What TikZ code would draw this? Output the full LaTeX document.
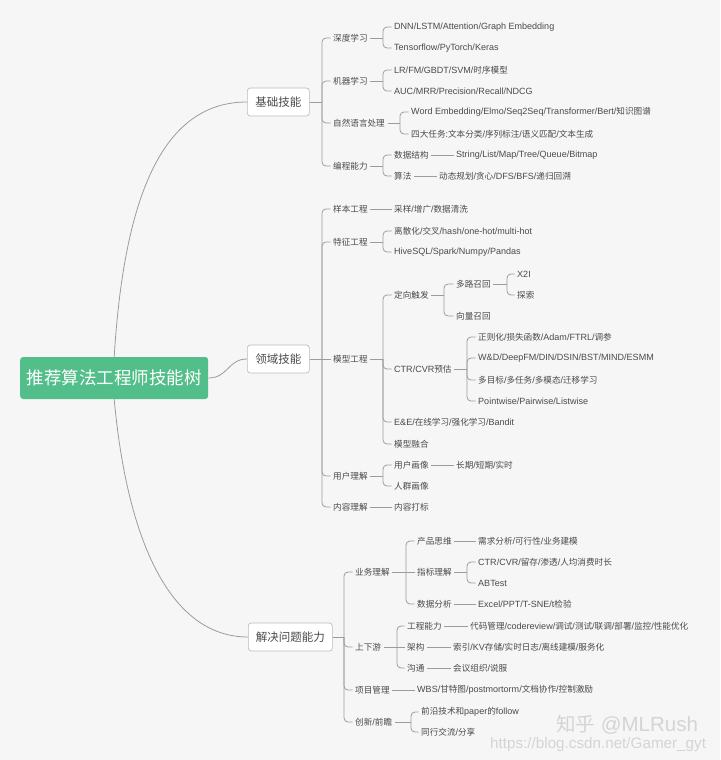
\documentclass[tikz,border=0pt]{standalone}
\usepackage{fontspec}
\setmainfont{Liberation Sans}[Scale=1.05]
\newfontfamily\latfont{Liberation Sans}[Scale=1.05]
\newfontfamily\cjkfont{Noto Sans CJK SC}
\newXeTeXintercharclass\CJKcls
\newcount\cjkcnt
\cjkcnt="4E00
\loop
  \XeTeXcharclass\cjkcnt=\CJKcls
  \advance\cjkcnt by 1
\ifnum\cjkcnt<"A000 \repeat
\XeTeXinterchartoks 0 \CJKcls={\cjkfont}
\XeTeXinterchartoks 4095 \CJKcls={\cjkfont}
\XeTeXinterchartoks \CJKcls 0={\latfont}
\XeTeXinterchartoks \CJKcls 4095={\latfont}
\XeTeXinterchartokenstate=1

\definecolor{bgc}{HTML}{F6F6F6}
\definecolor{lnc}{HTML}{9C9C9C}
\definecolor{txc}{HTML}{4A4A4A}
\definecolor{bdc}{HTML}{BDBDBD}
\definecolor{grn}{HTML}{52BE8A}
\definecolor{wmk}{HTML}{D4D4D4}

\tikzset{
  lbl/.style={anchor=west, xshift=-2.5pt, inner xsep=2.5pt, inner ysep=1pt, text=txc, font=\fontsize{8.6}{10}\selectfont},
  lvone/.style={anchor=west, draw=bdc, fill=white, rounded corners=3pt, line width=0.7pt, minimum height=28pt, inner xsep=6pt, text=txc, font=\fontsize{11.5}{13}\selectfont},
  rootbox/.style={anchor=west, fill=grn, rounded corners=3pt, minimum height=42pt, minimum width=188pt, text=white, font=\fontsize{17.5}{19}\selectfont},
  conn/.style={draw=lnc, line width=0.8pt, rounded corners=4pt},
  wm/.style={anchor=west, inner sep=0pt, text=wmk}
}

\newcommand\mybrk[3]{%
  \coordinate (bxc) at (#2,0);
  \coordinate (bj) at (#1.east -| bxc);
  \draw[conn] (#1.east) -- (bj);
  \foreach \c in {#3} {\draw[conn] (bj) |- (\c.west);}
}
\newcommand\mylnk[2]{\draw[conn] (#1.east) -- (#2.west);}

\begin{document}
\begin{tikzpicture}[x=1pt,y=-1pt]
\fill[bgc] (0,0) rectangle (720,760);
\useasboundingbox (0,0) rectangle (720,760);

% root and level one
\node[rootbox] (r) at (20,378) {推荐算法工程师技能树};
\node[lvone, minimum width=62pt] (A) at (247,102) {基础技能};
\node[lvone, minimum width=62pt] (B) at (247,359) {领域技能};
\node[lvone, minimum width=84pt] (C) at (248,637) {解决问题能力};

% 基础技能
\node[lbl] (a1) at (333,38) {深度学习};
\node[lbl] (a11) at (394,27) {DNN/LSTM/Attention/Graph Embedding};
\node[lbl] (a12) at (394,48) {Tensorflow/PyTorch/Keras};
\node[lbl] (a2) at (333,81) {机器学习};
\node[lbl] (a21) at (394,70) {LR/FM/GBDT/SVM/时序模型};
\node[lbl] (a22) at (394,91) {AUC/MRR/Precision/Recall/NDCG};
\node[lbl] (a3) at (333,123) {自然语言处理};
\node[lbl] (a31) at (411,112) {Word Embedding/Elmo/Seq2Seq/Transformer/Bert/知识图谱};
\node[lbl] (a32) at (411,134) {四大任务:文本分类/序列标注/语义匹配/文本生成};
\node[lbl] (a4) at (333,166) {编程能力};
\node[lbl] (a41) at (394,155) {数据结构};
\node[lbl] (a411) at (456,155) {String/List/Map/Tree/Queue/Bitmap};
\node[lbl] (a42) at (394,176) {算法};
\node[lbl] (a421) at (439,176) {动态规划/贪心/DFS/BFS/递归回溯};

% 领域技能
\node[lbl] (b1) at (333,209) {样本工程};
\node[lbl] (b11) at (394,209) {采样/增广/数据清洗};
\node[lbl] (b2) at (333,242) {特征工程};
\node[lbl] (b21) at (394,231) {离散化/交叉/hash/one-hot/multi-hot};
\node[lbl] (b22) at (394,252) {HiveSQL/Spark/Numpy/Pandas};
\node[lbl] (b3) at (333,359) {模型工程};
\node[lbl] (b31) at (394,295) {定向触发};
\node[lbl] (b311) at (456,284) {多路召回};
\node[lbl] (b3111) at (517,274) {X2I};
\node[lbl] (b3112) at (517,295) {探索};
\node[lbl] (b312) at (456,316) {向量召回};
\node[lbl] (b32) at (394,369) {CTR/CVR预估};
\node[lbl] (b321) at (478,337) {正则化/损失函数/Adam/FTRL/调参};
\node[lbl] (b322) at (478,358) {W\&D/DeepFM/DIN/DSIN/BST/MIND/ESMM};
\node[lbl] (b323) at (478,380) {多目标/多任务/多模态/迁移学习};
\node[lbl] (b324) at (478,401) {Pointwise/Pairwise/Listwise};
\node[lbl] (b33) at (394,422) {E\&E/在线学习/强化学习/Bandit};
\node[lbl] (b34) at (394,444) {模型融合};
\node[lbl] (b4) at (333,476) {用户理解};
\node[lbl] (b41) at (394,465) {用户画像};
\node[lbl] (b411) at (456,465) {长期/短期/实时};
\node[lbl] (b42) at (394,486) {人群画像};
\node[lbl] (b5) at (333,507) {内容理解};
\node[lbl] (b51) at (394,507) {内容打标};

% 解决问题能力
\node[lbl] (c1) at (355,572) {业务理解};
\node[lbl] (c11) at (417,541) {产品思维};
\node[lbl] (c111) at (478,541) {需求分析/可行性/业务建模};
\node[lbl] (c12) at (417,572) {指标理解};
\node[lbl] (c121) at (478,562) {CTR/CVR/留存/渗透/人均消费时长};
\node[lbl] (c122) at (478,583) {ABTest};
\node[lbl] (c13) at (417,604) {数据分析};
\node[lbl] (c131) at (478,604) {Excel/PPT/T-SNE/t检验};
\node[lbl] (c2) at (355,647) {上下游};
\node[lbl] (c21) at (407,626) {工程能力};
\node[lbl] (c211) at (470,626) {代码管理/codereview/调试/测试/联调/部署/监控/性能优化};
\node[lbl] (c22) at (407,647) {架构};
\node[lbl] (c221) at (453,647) {索引/KV存储/实时日志/离线建模/服务化};
\node[lbl] (c23) at (407,668) {沟通};
\node[lbl] (c231) at (453,668) {会议组织/说服};
\node[lbl] (c3) at (355,690) {项目管理};
\node[lbl] (c31) at (417,690) {WBS/甘特图/postmortorm/文档协作/控制激励};
\node[lbl] (c4) at (355,722) {创新/前瞻};
\node[lbl] (c41) at (421,712) {前沿技术和paper的follow};
\node[lbl] (c42) at (421,732) {同行交流/分享};

% watermark
\node[wm, font=\fontsize{19.5}{21}\selectfont] (w1) at (556,725) {知乎 @MLRush};
\node[wm, font=\fontsize{14.5}{16}\selectfont] (w2) at (490,745) {https://blog.csdn.net/Gamer\_gyt};

% root connectors
\draw[conn] (r.north) .. controls (125,180) and (170,102) .. (A.west);
\draw[conn] (r.east) .. controls (228,378) and (228,359) .. (B.west);
\draw[conn] (r.south) .. controls (127,540) and (170,637) .. (C.west);

% 基础技能 connectors
\mybrk{A}{322}{a1,a2,a3,a4}
\mybrk{a1}{383}{a11,a12}
\mybrk{a2}{383}{a21,a22}
\mybrk{a3}{400}{a31,a32}
\mybrk{a4}{383}{a41,a42}
\mylnk{a41}{a411}
\mylnk{a42}{a421}

% 领域技能 connectors
\mybrk{B}{322}{b1,b2,b4,b5}
\draw[conn] (bj) -- (b3.west);
\mylnk{b1}{b11}
\mybrk{b2}{383}{b21,b22}
\mybrk{b3}{383}{b31,b32,b33,b34}
\mybrk{b31}{444}{b311,b312}
\mybrk{b311}{507}{b3111,b3112}
\mybrk{b32}{467}{b321,b322,b323,b324}
\mybrk{b4}{383}{b41,b42}
\mylnk{b41}{b411}
\mylnk{b5}{b51}

% 解决问题能力 connectors
\mybrk{C}{344}{c1,c2,c3,c4}
\mybrk{c1}{406}{c11,c13}
\draw[conn] (bj) -- (c12.west);
\mylnk{c11}{c111}
\mybrk{c12}{467}{c121,c122}
\mylnk{c13}{c131}
\mybrk{c2}{397}{c21,c23}
\draw[conn] (bj) -- (c22.west);
\mylnk{c21}{c211}
\mylnk{c22}{c221}
\mylnk{c23}{c231}
\mylnk{c3}{c31}
\mybrk{c4}{411}{c41,c42}
\end{tikzpicture}
\end{document}
